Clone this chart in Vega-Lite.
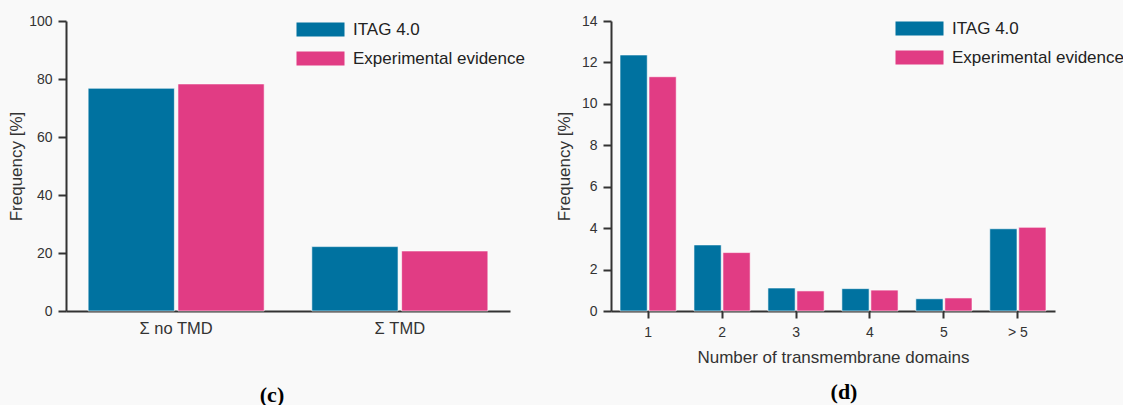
{
  "$schema": "https://vega.github.io/schema/vega-lite/v6.json",
  "background": "#f9f9f9",
  "padding": {"left": 7, "top": 14, "right": 0, "bottom": 0},
  "autosize": {"type": "pad"},
  "datasets": {
    "c": [
      {"category": "Σ no TMD", "series": "ITAG 4.0", "value": 76.8},
      {"category": "Σ no TMD", "series": "Experimental evidence", "value": 78.3},
      {"category": "Σ TMD", "series": "ITAG 4.0", "value": 22.2},
      {"category": "Σ TMD", "series": "Experimental evidence", "value": 20.7}
    ],
    "d": [
      {"category": "1", "series": "ITAG 4.0", "value": 12.36},
      {"category": "1", "series": "Experimental evidence", "value": 11.31},
      {"category": "2", "series": "ITAG 4.0", "value": 3.19},
      {"category": "2", "series": "Experimental evidence", "value": 2.82},
      {"category": "3", "series": "ITAG 4.0", "value": 1.11},
      {"category": "3", "series": "Experimental evidence", "value": 0.97},
      {"category": "4", "series": "ITAG 4.0", "value": 1.08},
      {"category": "4", "series": "Experimental evidence", "value": 1.01},
      {"category": "5", "series": "ITAG 4.0", "value": 0.59},
      {"category": "5", "series": "Experimental evidence", "value": 0.63},
      {"category": "> 5", "series": "ITAG 4.0", "value": 3.97},
      {"category": "> 5", "series": "Experimental evidence", "value": 4.04}
    ]
  },
  "config": {
    "font": "Liberation Sans",
    "view": {"stroke": null},
    "axis": {
      "domainColor": "#333333",
      "domainWidth": 2,
      "tickColor": "#333333",
      "tickWidth": 2,
      "tickSize": 8,
      "labelFontSize": 14,
      "labelColor": "#333333",
      "labelPadding": 6,
      "titleFontSize": 17,
      "titleFontWeight": "normal",
      "titleColor": "#333333",
      "grid": false
    },
    "legend": {
      "symbolType": "M-3.4286,-1H3.4286V1H-3.4286Z",
      "symbolSize": 196,
      "symbolStrokeWidth": 0,
      "symbolOpacity": 1,
      "labelFontSize": 17,
      "labelColor": "#222222",
      "labelOffset": 24,
      "labelLimit": 400,
      "rowPadding": 11
    }
  },
  "resolve": {"scale": {"x": "independent", "xOffset": "independent", "y": "independent", "color": "independent"}, "legend": {"color": "independent"}},
  "bounds": "flush",
  "spacing": 101,
  "hconcat": [
    {
      "width": 444,
      "height": 290,
      "data": {"name": "c"},
      "title": {"text": "(c)", "orient": "bottom", "anchor": "middle", "frame": "group", "dx": -16, "offset": 48, "font": "Liberation Serif", "fontSize": 22, "fontWeight": "bold", "color": "#000000"},
      "mark": {"type": "bar", "stroke": "#ffffff", "strokeWidth": 1, "strokeOpacity": 0.6},
      "encoding": {
        "x": {"field": "category", "type": "nominal", "sort": ["Σ no TMD", "Σ TMD"], "scale": {"paddingInner": 0.213, "paddingOuter": 0.099}, "axis": {"title": null, "labelAngle": 0, "ticks": false, "tickSize": 0, "labelPadding": 9, "labelFontSize": 16.5}},
        "xOffset": {"field": "series", "type": "nominal", "sort": ["ITAG 4.0", "Experimental evidence"], "scale": {"paddingInner": 0.04}},
        "y": {"field": "value", "type": "quantitative", "scale": {"domain": [0, 100], "nice": false}, "axis": {"title": "Frequency [%]", "values": [0, 20, 40, 60, 80, 100], "titlePadding": 3}},
        "color": {"field": "series", "type": "nominal", "sort": ["ITAG 4.0", "Experimental evidence"], "scale": {"domain": ["ITAG 4.0", "Experimental evidence"], "range": ["#0072a0", "#e13c84"]}, "legend": {"orient": "none", "legendX": 246, "legendY": 0, "title": null}}
      }
    },
    {
      "width": 444,
      "height": 290,
      "data": {"name": "d"},
      "title": {"text": "(d)", "orient": "bottom", "anchor": "middle", "frame": "group", "dx": 11, "offset": 17, "font": "Liberation Serif", "fontSize": 22, "fontWeight": "bold", "color": "#000000"},
      "mark": {"type": "bar", "stroke": "#ffffff", "strokeWidth": 1, "strokeOpacity": 0.6},
      "encoding": {
        "x": {"field": "category", "type": "nominal", "sort": ["1", "2", "3", "4", "5", "> 5"], "scale": {"paddingInner": 0.24, "paddingOuter": 0.122}, "axis": {"title": "Number of transmembrane domains", "labelAngle": 0, "tickSize": 7, "labelPadding": 7, "titlePadding": 10}},
        "xOffset": {"field": "series", "type": "nominal", "sort": ["ITAG 4.0", "Experimental evidence"], "scale": {"paddingInner": 0.06}},
        "y": {"field": "value", "type": "quantitative", "scale": {"domain": [0, 14], "nice": false}, "axis": {"title": "Frequency [%]", "values": [0, 2, 4, 6, 8, 10, 12, 14], "titlePadding": 8}},
        "color": {"field": "series", "type": "nominal", "sort": ["ITAG 4.0", "Experimental evidence"], "scale": {"domain": ["ITAG 4.0", "Experimental evidence"], "range": ["#0072a0", "#e13c84"]}, "legend": {"orient": "none", "legendX": 300, "legendY": -1, "title": null}}
      }
    }
  ]
}
